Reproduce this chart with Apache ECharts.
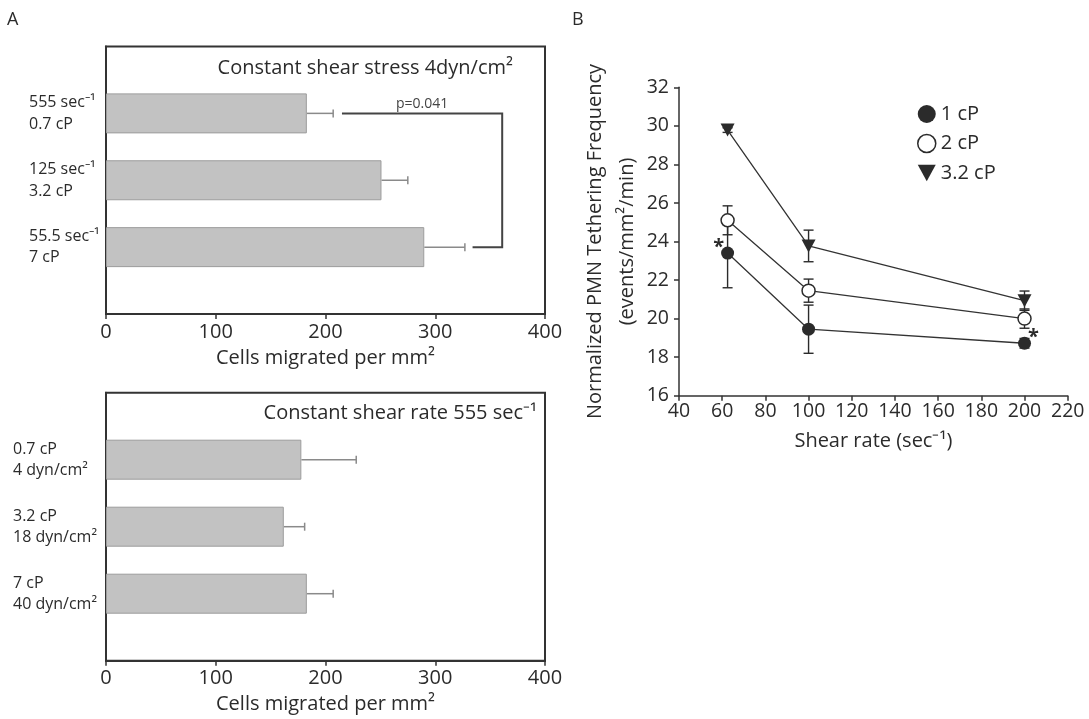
<!DOCTYPE html>
<html>
<head>
    <meta charset="UTF-8">
    <title>Shear migration and tethering</title>
    <style>
        html, body {
            margin: 0;
            padding: 0;
            background: #fff;
        }

        #chart {
            width: 1089px;
            height: 719px;
        }
    </style>
    <script src="https://cdn.jsdelivr.net/npm/echarts@6/dist/echarts.min.js"></script>
</head>
<body>
<div id="chart"></div>
<script>
    // panel A top: constant shear stress 4 dyn/cm2
    var stressLabels = ['555 sec⁻¹\n0.7 cP', '125 sec⁻¹\n3.2 cP', '55.5 sec⁻¹\n7 cP'];
    var stressMeans = [183, 251, 290];
    var stressErrors = [24, 24, 37];
    // bracket between first and last bar: [start top, start bottom, edge, index top, index bottom]
    var stressBracket = [215, 334, 361, 1, 3];
    var stressP = 'p=0.041';

    // panel A bottom: constant shear rate 555 sec-1
    var rateLabels = ['0.7 cP\n4 dyn/cm²', '3.2 cP\n18 dyn/cm²', '7 cP\n40 dyn/cm²'];
    var rateMeans = [178, 162, 183];
    var rateErrors = [50, 19, 24];

    // panel B: tethering frequency vs shear rate
    var shearRates = [62.5, 100, 200];
    var cp1 = [23.4, 19.45, 18.72];
    var cp1Err = [1.8, 1.25, 0.25];
    var cp2 = [25.1, 21.45, 20.0];
    var cp2Err = [0.75, 0.6, 0.5];
    var cp32 = [29.78, 23.77, 20.93];
    var cp32Err = [0.12, 0.82, 0.5];
    // significance stars: [shear rate, value, side]
    var stars = [[62.5, 23.4, -1], [200, 18.72, 1]];

    var font = 'Open Sans';
    var ink = '#2b2b2b';
    var triangle = 'path://M0,0L12,0L6,11Z';

    function padCats(labels) {
        return [''].concat(labels, ['']);
    }

    function padVals(vals) {
        return ['-'].concat(vals, ['-']);
    }

    function hErr(means, errs) {
        return means.map(function (m, i) {
            return [m, i + 1, errs[i]];
        });
    }

    function vErr(vals, errs) {
        return vals.map(function (v, i) {
            return [shearRates[i], v, errs[i]];
        });
    }

    function renderHErr(params, api) {
        var a = api.coord([api.value(0), api.value(1)]);
        var b = api.coord([api.value(0) + api.value(2), api.value(1)]);
        var st = {stroke: '#8a8a8a', lineWidth: 1.5};
        return {
            type: 'group',
            children: [
                {type: 'line', shape: {x1: a[0], y1: a[1], x2: b[0], y2: b[1]}, style: st},
                {type: 'line', shape: {x1: b[0], y1: b[1] - 4, x2: b[0], y2: b[1] + 4}, style: st}
            ]
        };
    }

    function renderVErr(params, api) {
        var x = api.value(0), y = api.value(1), e = api.value(2);
        var lo = api.coord([x, y - e]);
        var hi = api.coord([x, y + e]);
        var st = {stroke: ink, lineWidth: 1.4};
        return {
            type: 'group',
            children: [
                {type: 'line', shape: {x1: lo[0], y1: lo[1], x2: hi[0], y2: hi[1]}, style: st},
                {type: 'line', shape: {x1: lo[0] - 5, y1: lo[1], x2: lo[0] + 5, y2: lo[1]}, style: st},
                {type: 'line', shape: {x1: hi[0] - 5, y1: hi[1], x2: hi[0] + 5, y2: hi[1]}, style: st}
            ]
        };
    }

    function renderBracket(params, api) {
        var top1 = api.coord([api.value(0), api.value(3)]);
        var bot1 = api.coord([api.value(1), api.value(4)]);
        var edgeTop = api.coord([api.value(2), api.value(3)]);
        var edgeBot = api.coord([api.value(2), api.value(4)]);
        return {
            type: 'group',
            children: [
                {
                    type: 'polyline',
                    shape: {points: [top1, edgeTop, edgeBot, bot1]},
                    style: {stroke: '#444', lineWidth: 2, fill: null}
                },
                {
                    type: 'text',
                    x: (top1[0] + edgeTop[0]) / 2,
                    y: top1[1] - 2,
                    style: {
                        text: stressP, fontFamily: font, fontSize: 14, fill: '#444',
                        align: 'center', verticalAlign: 'bottom'
                    }
                }
            ]
        };
    }

    function renderStar(params, api) {
        var p = api.coord([api.value(0), api.value(1)]);
        var side = api.value(2);
        return {
            type: 'text',
            x: p[0] + side * 9,
            y: p[1] - 6,
            style: {
                text: '*', fontFamily: font, fontSize: 20, fontWeight: 'bold', fill: ink,
                align: 'center', verticalAlign: 'middle'
            }
        };
    }

    function cellAxis(grid) {
        return {
            type: 'value', gridIndex: grid, min: 0, max: 400, interval: 100,
            name: 'Cells migrated per mm²', nameLocation: 'middle', nameGap: 34,
            nameTextStyle: {fontFamily: font, fontSize: 20, color: ink},
            axisLine: {show: true, lineStyle: {color: '#333', width: 2}},
            axisTick: {show: true, length: 5, lineStyle: {color: '#333', width: 1.5}},
            axisLabel: {fontFamily: font, fontSize: 20, color: ink, margin: 8},
            splitLine: {show: false}
        };
    }

    function catAxis(grid, labels, margin) {
        return {
            type: 'category', gridIndex: grid, inverse: true, boundaryGap: false,
            data: padCats(labels),
            axisLine: {show: true, lineStyle: {color: '#333', width: 2}},
            axisTick: {show: false},
            axisLabel: {
                interval: 0, align: 'left', margin: margin,
                fontFamily: font, fontSize: 16, lineHeight: 21.5, color: ink
            },
            splitLine: {show: false}
        };
    }

    var chart = echarts.init(document.getElementById('chart'), null, {renderer: 'canvas'});

    chart.setOption({
        backgroundColor: '#fff',
        animation: false,
        textStyle: {fontFamily: font},
        grid: [
            {left: 106, top: 46.5, width: 439, height: 267.5, show: true, borderColor: '#333', borderWidth: 2},
            {left: 106, top: 392.7, width: 439, height: 268, show: true, borderColor: '#333', borderWidth: 2},
            {left: 679, top: 87.3, width: 388.7, height: 308.4}
        ],
        xAxis: [
            cellAxis(0),
            cellAxis(1),
            {
                type: 'value', gridIndex: 2, min: 40, max: 220, interval: 20,
                name: 'Shear rate (sec⁻¹)', nameLocation: 'middle', nameGap: 36,
                nameTextStyle: {fontFamily: font, fontSize: 20, color: ink},
                axisLine: {show: true, lineStyle: {color: '#333', width: 1.5}},
                axisTick: {show: true, length: 5, lineStyle: {color: '#333', width: 1.5}},
                axisLabel: {fontFamily: font, fontSize: 19.5, color: ink, margin: 6},
                splitLine: {show: false}
            }
        ],
        yAxis: [
            catAxis(0, stressLabels, 77),
            catAxis(1, rateLabels, 93),
            {
                type: 'value', gridIndex: 2, min: 16, max: 32, interval: 2,
                name: 'Normalized PMN Tethering Frequency\n(events/mm²/min)',
                nameLocation: 'middle', nameGap: 36, nameRotate: 90,
                nameTextStyle: {fontFamily: font, fontSize: 20, lineHeight: 32, color: ink},
                axisLine: {show: true, lineStyle: {color: '#333', width: 1.5}},
                axisTick: {show: true, length: 5, lineStyle: {color: '#333', width: 1.5}},
                axisLabel: {fontFamily: font, fontSize: 19.5, color: ink, margin: 10},
                splitLine: {show: false}
            }
        ],
        legend: {
            orient: 'vertical', left: 912, top: 99,
            itemWidth: 18, itemHeight: 18, itemGap: 9.5,
            textStyle: {fontFamily: font, fontSize: 20, color: ink},
            data: [
                {name: '1 cP', icon: 'circle', itemStyle: {color: ink, borderWidth: 0}},
                {name: '2 cP', icon: 'circle', itemStyle: {color: '#fff', borderColor: ink, borderWidth: 1.5}},
                {name: '3.2 cP', icon: triangle, itemStyle: {color: ink, borderWidth: 0}}
            ]
        },
        graphic: [
            {type: 'text', left: 7, top: 11, style: {text: 'A', fontFamily: font, fontSize: 18, fill: ink}},
            {type: 'text', left: 572, top: 11, style: {text: 'B', fontFamily: font, fontSize: 18, fill: ink}},
            {
                type: 'text', x: 513, y: 68,
                style: {
                    text: 'Constant shear stress 4dyn/cm²', fontFamily: font, fontSize: 20, fill: ink,
                    align: 'right', verticalAlign: 'middle'
                }
            },
            {
                type: 'text', x: 537, y: 413,
                style: {
                    text: 'Constant shear rate 555 sec⁻¹', fontFamily: font, fontSize: 20, fill: ink,
                    align: 'right', verticalAlign: 'middle'
                }
            }
        ],
        series: [
            {
                type: 'bar', xAxisIndex: 0, yAxisIndex: 0, barWidth: 40,
                data: padVals(stressMeans), silent: true,
                itemStyle: {color: '#c2c2c2', borderColor: '#9c9c9c', borderWidth: 1}
            },
            {
                type: 'custom', xAxisIndex: 0, yAxisIndex: 0, renderItem: renderHErr,
                data: hErr(stressMeans, stressErrors), encode: {x: 0, y: 1}, silent: true
            },
            {
                type: 'custom', xAxisIndex: 0, yAxisIndex: 0, renderItem: renderBracket,
                data: [stressBracket], encode: {x: 0, y: 3}, silent: true
            },
            {
                type: 'bar', xAxisIndex: 1, yAxisIndex: 1, barWidth: 40,
                data: padVals(rateMeans), silent: true,
                itemStyle: {color: '#c2c2c2', borderColor: '#9c9c9c', borderWidth: 1}
            },
            {
                type: 'custom', xAxisIndex: 1, yAxisIndex: 1, renderItem: renderHErr,
                data: hErr(rateMeans, rateErrors), encode: {x: 0, y: 1}, silent: true
            },
            {
                type: 'custom', xAxisIndex: 2, yAxisIndex: 2, renderItem: renderVErr, z: 1,
                data: vErr(cp1, cp1Err), encode: {x: 0, y: 1}, silent: true
            },
            {
                type: 'custom', xAxisIndex: 2, yAxisIndex: 2, renderItem: renderVErr, z: 1,
                data: vErr(cp2, cp2Err), encode: {x: 0, y: 1}, silent: true
            },
            {
                type: 'custom', xAxisIndex: 2, yAxisIndex: 2, renderItem: renderVErr, z: 1,
                data: vErr(cp32, cp32Err), encode: {x: 0, y: 1}, silent: true
            },
            {
                name: '1 cP', type: 'line', xAxisIndex: 2, yAxisIndex: 2, z: 3,
                data: shearRates.map(function (x, i) { return [x, cp1[i]]; }),
                symbol: 'circle', symbolSize: 13,
                lineStyle: {color: '#333', width: 1.3},
                itemStyle: {color: ink}
            },
            {
                name: '2 cP', type: 'line', xAxisIndex: 2, yAxisIndex: 2, z: 3,
                data: shearRates.map(function (x, i) { return [x, cp2[i]]; }),
                symbol: 'circle', symbolSize: 13,
                lineStyle: {color: '#333', width: 1.3},
                itemStyle: {color: '#fff', borderColor: ink, borderWidth: 1.5}
            },
            {
                name: '3.2 cP', type: 'line', xAxisIndex: 2, yAxisIndex: 2, z: 3,
                data: shearRates.map(function (x, i) { return [x, cp32[i]]; }),
                symbol: triangle, symbolSize: [14, 13],
                lineStyle: {color: '#333', width: 1.3},
                itemStyle: {color: ink}
            },
            {
                type: 'custom', xAxisIndex: 2, yAxisIndex: 2, renderItem: renderStar, z: 4,
                data: stars, encode: {x: 0, y: 1}, silent: true
            }
        ]
    });
</script>
</body>
</html>
